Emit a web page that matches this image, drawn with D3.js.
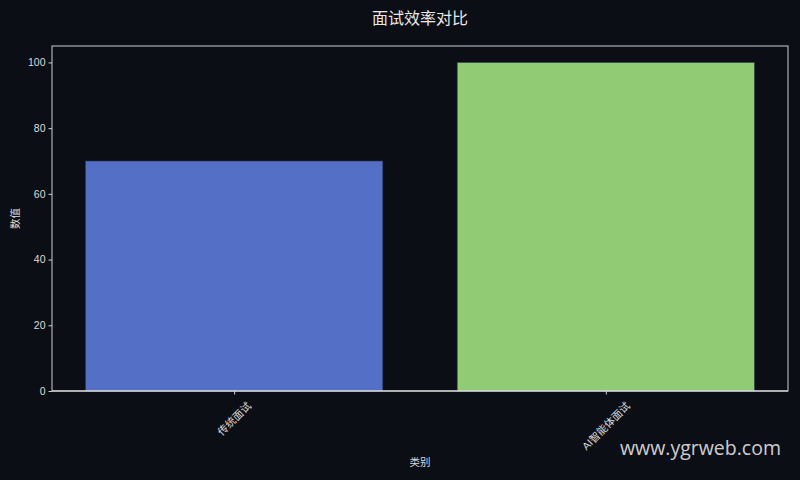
<!DOCTYPE html>
<html>
<head>
<meta charset="utf-8">
<script src="https://cdn.jsdelivr.net/npm/d3@7"></script>
<style>
  html, body { margin: 0; padding: 0; background: #0b0e14; }
  svg { display: block; }
  text { font-family: "Liberation Sans", "Noto Sans CJK SC", sans-serif; }
</style>
</head>
<body>
<svg></svg>
<script>
const categories = ["传统面试", "AI智能体面试"]
const values = [70, 100]
const barColors = ["#5470c6", "#91cc75"]
const yTicks = [0, 20, 40, 60, 80, 100]

const width = 800
const height = 480
const margin = { top: 46, right: 12, bottom: 89, left: 52 }
const fg = "#dcdcdc"

const svg = d3.select("svg")
    .attr("width", width)
    .attr("height", height)

svg.append("rect")
    .attr("width", width)
    .attr("height", height)
    .attr("fill", "#0b0e14")

const x = d3.scaleLinear()
    .domain([-0.49, categories.length - 1 + 0.49])
    .range([margin.left, width - margin.right])

const y = d3.scaleLinear()
    .domain([0, 105])
    .range([height - margin.bottom, margin.top])

// bars
svg.selectAll(".bar")
    .data(values)
    .enter()
    .append("rect")
    .attr("class", "bar")
    .attr("x", (d, i) => x(i - 0.4))
    .attr("width", x(0.8) - x(0))
    .attr("y", d => y(d))
    .attr("height", d => y(0) - y(d))
    .attr("fill", (d, i) => barColors[i])
    .attr("stroke", "#2a3350")
    .attr("stroke-width", 0.6)

// frame
svg.append("rect")
    .attr("x", margin.left)
    .attr("y", margin.top)
    .attr("width", width - margin.left - margin.right)
    .attr("height", height - margin.top - margin.bottom)
    .attr("fill", "none")
    .attr("stroke", "#cfcfcf")
    .attr("stroke-width", 1)

// bottom spine a bit brighter
svg.append("line")
    .attr("x1", margin.left)
    .attr("x2", width - margin.right)
    .attr("y1", y(0))
    .attr("y2", y(0))
    .attr("stroke", "#f0f0f0")
    .attr("stroke-width", 1.2)

// y axis
const yAxis = svg.append("g")
    .attr("transform", `translate(${margin.left},0)`)
    .call(d3.axisLeft(y).tickValues(yTicks).tickSize(3.5).tickPadding(3))
yAxis.select(".domain").remove()
yAxis.selectAll("line").attr("stroke", "#cfcfcf")
yAxis.selectAll("text")
    .attr("fill", fg)
    .style("font-size", "10.5px")
    .style("font-family", "Liberation Sans, Noto Sans CJK SC, sans-serif")

// x axis
const xAxis = svg.append("g")
    .attr("transform", `translate(0,${height - margin.bottom})`)
    .call(d3.axisBottom(x).tickValues(d3.range(categories.length)).tickSize(3.5).tickFormat(""))
xAxis.select(".domain").remove()
xAxis.selectAll("line").attr("stroke", "#cfcfcf")

const fontSize = 10.5
const labelTop = height - margin.bottom + 9
svg.selectAll(".xlabel")
    .data(categories)
    .enter()
    .append("text")
    .attr("class", "xlabel")
    .attr("fill", fg)
    .attr("text-anchor", "middle")
    .attr("dominant-baseline", "central")
    .style("font-size", fontSize + "px")
    .text(d => d)
    .each(function (d, i) {
        const len = this.getComputedTextLength()
        const h = (len + fontSize) / Math.SQRT2
        d3.select(this).attr("transform", `translate(${x(i)},${labelTop + h / 2}) rotate(-45)`)
    })

// titles
svg.append("text")
    .attr("x", (margin.left + width - margin.right) / 2)
    .attr("y", 24)
    .attr("text-anchor", "middle")
    .attr("fill", "#e8e8e8")
    .style("font-size", "16px")
    .text("面试效率对比")

svg.append("text")
    .attr("x", (margin.left + width - margin.right) / 2)
    .attr("y", 466)
    .attr("text-anchor", "middle")
    .attr("fill", fg)
    .style("font-size", "10.5px")
    .text("类别")

svg.append("text")
    .attr("transform", `translate(19,${(margin.top + height - margin.bottom) / 2}) rotate(-90)`)
    .attr("text-anchor", "middle")
    .attr("fill", fg)
    .style("font-size", "10.5px")
    .text("数值")

// watermark
svg.append("text")
    .attr("x", 781)
    .attr("y", 455)
    .attr("text-anchor", "end")
    .attr("fill", "#e6e6e6")
    .attr("fill-opacity", 0.9)
    .style("font-family", "Open Sans, Noto Sans, sans-serif")
    .style("font-size", "19.5px")
    .text("www.ygrweb.com")
</script>
</body>
</html>
